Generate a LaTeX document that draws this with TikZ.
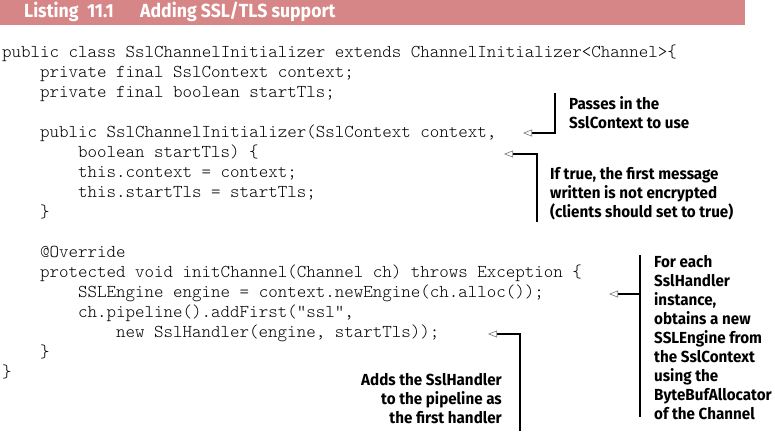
\documentclass[tikz,border=0pt]{standalone}
\usepackage{fontspec}
\usetikzlibrary{arrows.meta}
\newfontfamily\annfont[FakeStretch=0.95]{Fira Sans}
\newfontfamily\titlefont[FakeStretch=0.93]{Fira Sans}
\definecolor{barpink}{RGB}{214,134,134}
\definecolor{tipgray}{RGB}{120,120,120}
\begin{document}
\begin{tikzpicture}[x=1pt,y=-1pt,
  code/.style={anchor=base west,inner sep=0pt,
    font=\fontseries{l}\ttfamily\fontsize{18.1}{20}\selectfont},
  ann/.style={anchor=base west,inner sep=0pt,align=left,
    font=\annfont\bfseries\fontsize{16}{19}\selectfont},
  annr/.style={ann,anchor=base east,align=right},
  ttl/.style={anchor=base west,inner sep=0pt,text=white,
    font=\titlefont\bfseries\fontsize{19}{20}\selectfont},
  conn/.style={line width=1.2pt,-{Triangle[open,length=9pt,width=7pt,line width=0.6pt,color=tipgray,fill=white]}}]
\useasboundingbox (0,0) rectangle (775,431);
% title bar
\fill[barpink] (0,0) rectangle (745,25);
\node[ttl] (t1) at (24,17.5) {Listing\hspace{0.45em}11.1};
\node[ttl] (t2) at (140,17.5) {Adding SSL/TLS support};
% code
\node[code] (c1)  at (2,57)  {public class SslChannelInitializer extends ChannelInitializer<Channel>\{};
\node[code] (c2)  at (40,77) {private final SslContext context;};
\node[code] (c3)  at (40,97) {private final boolean startTls;};
\node[code] (c5)  at (40,137) {public SslChannelInitializer(SslContext context,};
\node[code] (c6)  at (78,157) {boolean startTls) \{};
\node[code] (c7)  at (78,177) {this.context = context;};
\node[code] (c8)  at (78,197) {this.startTls = startTls;};
\node[code] (c9)  at (40,217) {\}};
\node[code] (c11) at (40,257) {@Override};
\node[code] (c12) at (40,277) {protected void initChannel(Channel ch) throws Exception \{};
\node[code] (c13) at (78,297) {SSLEngine engine = context.newEngine(ch.alloc());};
\node[code] (c14) at (78,317) {ch.pipeline().addFirst("ssl",};
\node[code] (c15) at (116,337) {new SslHandler(engine, startTls));};
\node[code] (c16) at (40,357) {\}};
\node[code] (c17) at (2,377) {\}};
% annotations (base anchor = baseline of last line)
\node[ann] (a1) at (569,128) {Passes in the\\SslContext to use};
\node[ann] (a2) at (550,217) {If true, the first message\\written is not encrypted\\(clients should set to true)};
\node[ann] (a3) at (654,419) {For each\\SslHandler\\instance,\\obtains a new\\SSLEngine from\\the SslContext\\using the\\ByteBufAllocator\\of the Channel};
\node[annr] (a4) at (502,423) {Adds the SslHandler\\to the pipeline as\\the first handler};
% connector coordinates
\coordinate (p1) at (523,133);
\coordinate (q1) at (555,93);
\coordinate (p2) at (504,154);
\coordinate (q2) at (537,222);
\coordinate (p3) at (609,294);
\coordinate (q3a) at (640,255);
\coordinate (q3b) at (640,417);
\coordinate (p4) at (488,334);
\coordinate (q4) at (520,431);
\draw[conn] (q1) |- (p1);
\draw[conn] (q2) |- (p2);
\draw[line width=1.2pt] (q3a) -- (q3b);
\draw[conn] (p3 -| q3a) -- (p3);
\draw[conn] (q4) |- (p4);
\end{tikzpicture}
\end{document}
